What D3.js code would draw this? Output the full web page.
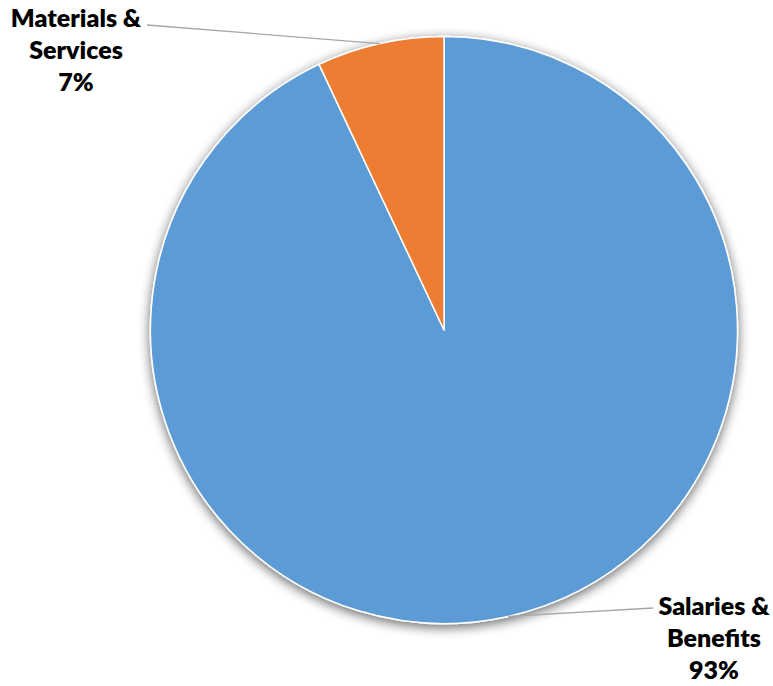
<!DOCTYPE html>
<html>
<head>
<meta charset="utf-8">
<script src="https://cdn.jsdelivr.net/npm/d3@7"></script>
<style>
  html, body { margin: 0; padding: 0; background: #ffffff; }
  svg { display: block; }
  .lbl { font-family: "Lato", "Liberation Sans", sans-serif; font-weight: 800; font-size: 25px; fill: #000000; }
</style>
</head>
<body>
<svg id="chart" width="773" height="686"></svg>
<script>
// Budget split by expense category (percent of total)
const categories = ["Salaries & Benefits", "Materials & Services"];
const shares = [93, 7];
const labelLines = [["Salaries &", "Benefits", "93%"], ["Materials &", "Services", "7%"]];
const colors = ["#5B9BD5", "#ED7D31"];

const W = 773, H = 686;
const cx = 444, cy = 330, R = 293.5;

const svg = d3.select("#chart");

// soft outer shadow around the pie
const defs = svg.append("defs");
const f = defs.append("filter").attr("id", "pieShadow")
  .attr("x", "-20%").attr("y", "-20%").attr("width", "140%").attr("height", "140%");
f.append("feGaussianBlur").attr("in", "SourceAlpha").attr("stdDeviation", 6).attr("result", "b");
f.append("feOffset").attr("in", "b").attr("dx", 0).attr("dy", 3).attr("result", "o");
f.append("feComponentTransfer").attr("in", "o").attr("result", "s")
  .append("feFuncA").attr("type", "linear").attr("slope", 0.6);
const m = f.append("feMerge");
m.append("feMergeNode").attr("in", "s");
m.append("feMergeNode").attr("in", "SourceGraphic");

const pie = d3.pie().sort(null).value(d => d)(shares);
const arc = d3.arc().innerRadius(0).outerRadius(R);
const rimArc = d3.arc().innerRadius(R).outerRadius(R);

const g = svg.append("g").attr("transform", `translate(${cx},${cy})`);

g.append("g").attr("filter", "url(#pieShadow)")
  .selectAll("path").data(pie).join("path")
  .attr("d", arc)
  .attr("fill", (d, i) => colors[i])
  .attr("stroke", "#ffffff")
  .attr("stroke-width", 1.5)
  .attr("stroke-linejoin", "round");

// label anchors (centre of text block, first baseline) relative to the pie centre
const labelPos = [
  { x: 714 - cx, y: 615 - cy, lineEnd: { dx: -61, dy: -7 } },
  { x: 76 - cx, y: 27 - cy, lineEnd: { dx: 71, dy: -2 } }
];
const lineGap = 32;

pie.forEach((d, i) => {
  const p = rimArc.centroid(d);
  const lp = labelPos[i];
  g.append("line")
    .attr("x1", p[0]).attr("y1", p[1])
    .attr("x2", lp.x + lp.lineEnd.dx).attr("y2", lp.y + lp.lineEnd.dy)
    .attr("stroke", "#a6a6a6").attr("stroke-width", 1.3);
  const t = g.append("text").attr("class", "lbl").attr("text-anchor", "middle");
  labelLines[i].forEach((s, k) => {
    t.append("tspan").attr("x", lp.x).attr("y", lp.y + k * lineGap).text(s);
  });
});
</script>
</body>
</html>
